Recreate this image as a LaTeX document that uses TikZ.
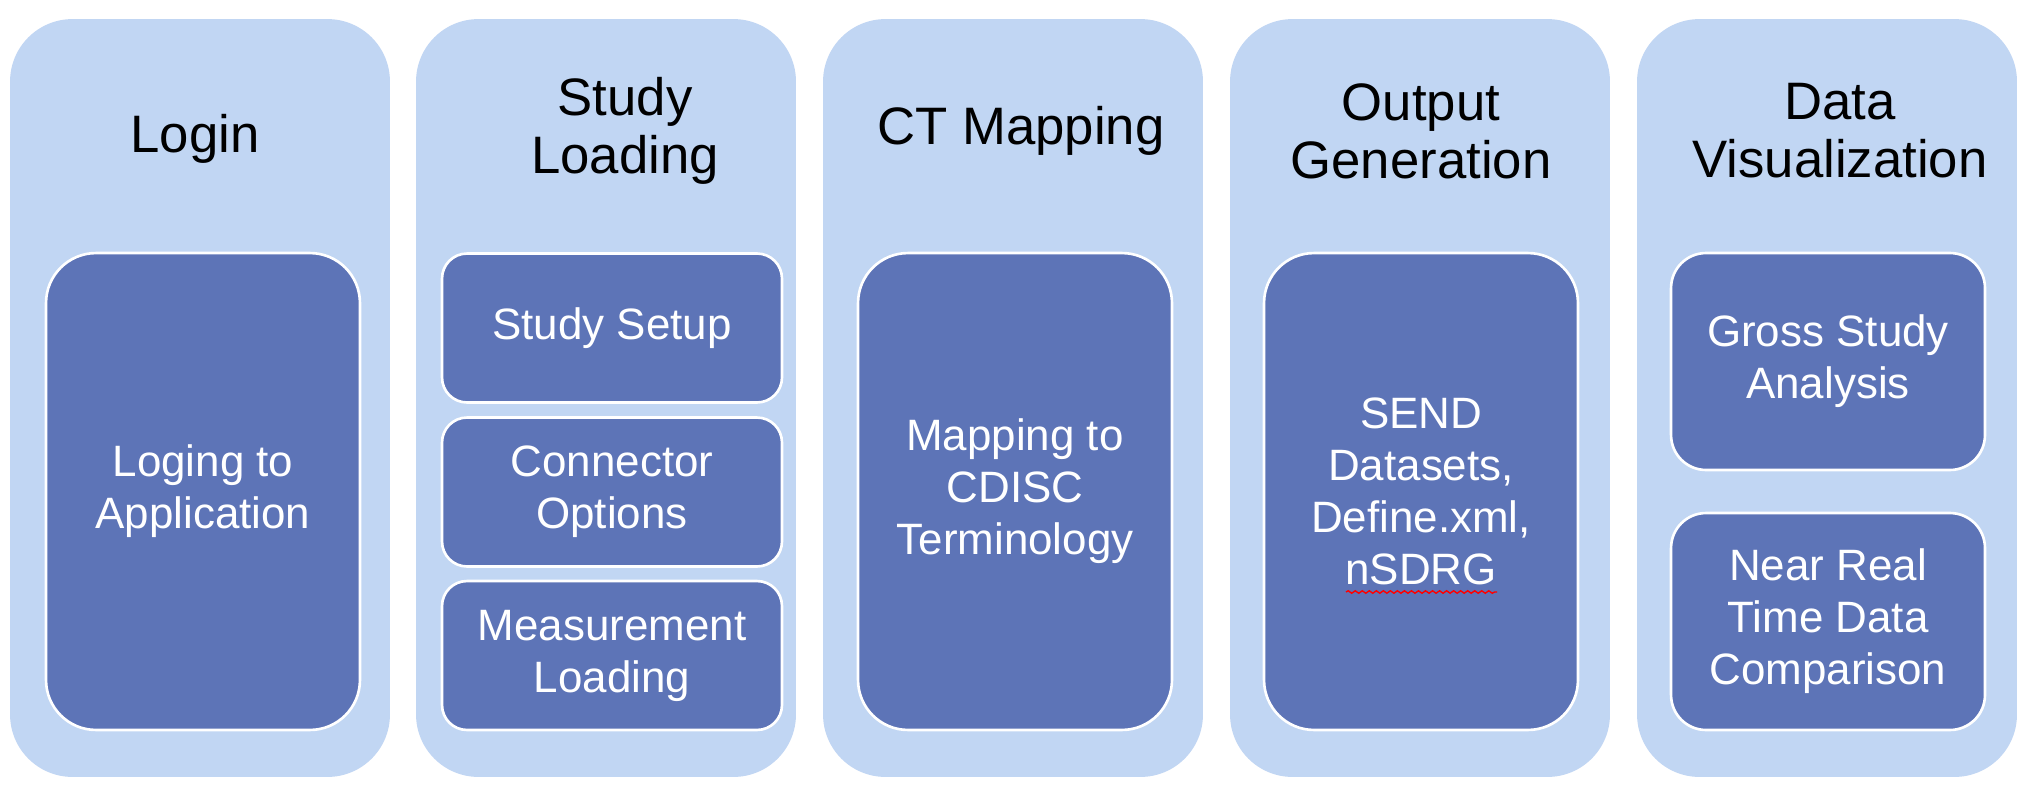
\documentclass[tikz,border=0pt]{standalone}
\usepackage{fontspec}
\setmainfont{Liberation Sans}
\usetikzlibrary{decorations.pathmorphing}
\definecolor{panelblue}{RGB}{193,214,243}
\definecolor{taskblue}{RGB}{93,116,183}
\begin{document}
\begin{tikzpicture}[x=0.02cm, y=-0.02cm,
            stage/.style = {fill=panelblue, rounded corners=1.25cm,
                        minimum width=7.6cm, minimum height=15.16cm, inner sep=0pt},
            heading/.style = {align=center, font=\fontsize{30}{33}\selectfont},
            task/.style = {draw=white, line width=1.5pt, fill=taskblue,
                        text=white, align=center, inner sep=0pt,
                        font=\fontsize{25}{29.6}\selectfont},
            tall/.style = {task, minimum width=6.28cm, minimum height=9.54cm,
                        rounded corners=1cm}]
            \fill[white] (0,0) rectangle (2037,788);
            % Login
            \node[stage] (login) at (200,398) {};
            \node[heading] (loginT) at (195,139) {Login};
            \node[tall] (loginA) at (203,491.5) {Loging to\\Application};
            % Study Loading
            \node[stage] (study) at (606,398) {};
            \node[heading] (studyT) at (625,131) {Study\\Loading};
            \node[task, minimum width=6.8cm, minimum height=2.98cm,
                rounded corners=0.5cm] (studyA) at (612,328) {Study Setup};
            \node[task, minimum width=6.8cm, minimum height=2.98cm,
                rounded corners=0.5cm] (studyB) at (612,492) {Connector\\Options};
            \node[task, minimum width=6.8cm, minimum height=2.98cm,
                rounded corners=0.5cm] (studyC) at (612,655.5) {Measurement\\Loading};
            % CT Mapping
            \node[stage] (ct) at (1013,398) {};
            \node[heading] (ctT) at (1021,131) {CT Mapping};
            \node[tall] (ctA) at (1015,491.5) {Mapping to\\CDISC\\Terminology};
            % Output Generation
            \node[stage] (out) at (1420,398) {};
            \node[heading] (outT) at (1421,131) {Output\\Generation};
            \node[tall] (outA) at (1421,491.5) {SEND\\Datasets,\\Define.xml,\\nSDRG};
            \draw[red, line width=0.8pt, decorate,
                decoration={snake, amplitude=0.7pt, segment length=4pt}]
                (1346,592) -- (1497,592);
            % Data Visualization
            \node[stage] (vis) at (1827,398) {};
            \node[heading] (visT) at (1840,131) {Data\\Visualization};
            \node[task, minimum width=6.28cm, minimum height=4.34cm,
                rounded corners=0.7cm] (visA) at (1828,361.5) {Gross Study\\Analysis};
            \node[task, minimum width=6.28cm, minimum height=4.34cm,
                rounded corners=0.7cm] (visB) at (1828,621.5) {Near Real\\Time Data\\Comparison};
        \end{tikzpicture}
\end{document}
